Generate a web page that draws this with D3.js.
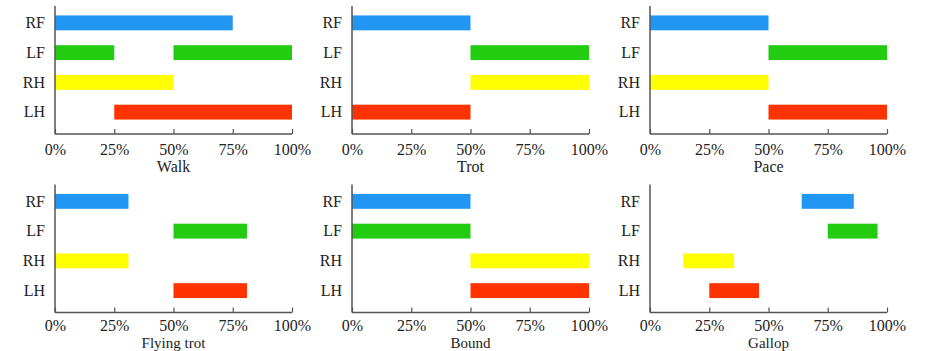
<!DOCTYPE html>
<html><head><meta charset="utf-8">
<script src="https://cdn.jsdelivr.net/npm/d3@7"></script>
<style>
html,body{margin:0;padding:0;background:#fff;}
svg{display:block;}
text{font-family:"Liberation Serif","Times New Roman",serif;fill:#222;}
</style></head>
<body>
<svg id="c" width="937" height="351"></svg>
<script>
// ---- data ----
const legs = ["RF", "LF", "RH", "LH"];
const gaits = ["Walk", "Trot", "Pace", "Flying trot", "Bound", "Gallop"];
const tickValues = [0, 25, 50, 75, 100];
const tickLabels = ["0%", "25%", "50%", "75%", "100%"];
const legColors = ["#2196f3", "#22cc11", "#ffff00", "#ff3300"];
// stance phases per gait: [leg, start %, end %]
const walk = [["RF",0,75],["LF",0,25],["LF",50,100],["RH",0,50],["LH",25,100]];
const trot = [["RF",0,50],["LF",50,100],["RH",50,100],["LH",0,50]];
const pace = [["RF",0,50],["LF",50,100],["RH",0,50],["LH",50,100]];
const flyingTrot = [["RF",0,31],["LF",50,81],["RH",0,31],["LH",50,81]];
const bound = [["RF",0,50],["LF",0,50],["RH",50,100],["LH",50,100]];
const gallop = [["RF",64,86],["LF",75,96],["RH",14,35.5],["LH",25,46]];
const gaitData = [walk, trot, pace, flyingTrot, bound, gallop];

// ---- layout ----
const svg = d3.select("#c");
const panelX = [55, 352, 650];
const panelW = 237;
const rowY = [0, 178.5];
const titleOffset = [38, 35.5];
const titleSize = [16, 15];
const tickPad = [12, 9.5];
const color = d3.scaleOrdinal().domain(legs).range(legColors);

gaits.forEach((g, i) => {
  const col = i % 3, row = Math.floor(i / 3);
  const x0 = panelX[col], oy = rowY[row];
  const x = d3.scaleLinear().domain([0, 100]).range([x0, x0 + panelW]);
  const y = d3.scaleBand().domain(legs).range([oy + 8, oy + 127]).paddingInner(0.5).paddingOuter(0.25);
  const base = oy + 134, top = oy + 6;
  const gp = svg.append("g");

  gp.selectAll("rect").data(gaitData[i]).join("rect")
    .attr("x", d => x(d[1]))
    .attr("width", d => x(d[2]) - x(d[1]))
    .attr("y", d => y(d[0]))
    .attr("height", y.bandwidth())
    .attr("fill", d => color(d[0]));

  // x axis
  const xa = d3.axisBottom(x).tickValues(tickValues).tickSize(-5).tickPadding(tickPad[row])
    .tickFormat((d, k) => tickLabels[k]);
  const gx = gp.append("g").attr("transform", `translate(0,${base})`).call(xa);
  gx.select(".domain").attr("d", `M${x0},0H${x0 + panelW}`).attr("stroke", "#555").attr("stroke-width", 1.5);
  gx.selectAll(".tick line").attr("stroke", "#555").attr("stroke-width", 1.2);
  gx.selectAll(".tick text").attr("font-size", 16).attr("font-family", "Liberation Serif").attr("fill", "#222").attr("dy", "0.55em");

  // y axis
  const ya = d3.axisLeft(y).tickSize(0).tickPadding(10);
  const gy = gp.append("g").attr("transform", `translate(${x0},0)`).call(ya);
  gy.select(".domain").attr("d", `M0,${top}V${base}`).attr("stroke", "#555").attr("stroke-width", 1.5);
  gy.selectAll(".tick text").attr("font-size", 16).attr("font-family", "Liberation Serif").attr("fill", "#222");

  // gait title
  gp.append("text").attr("x", x0 + panelW / 2).attr("y", base + titleOffset[row])
    .attr("text-anchor", "middle").attr("font-size", titleSize[row]).text(g);
});
</script>
</body></html>
